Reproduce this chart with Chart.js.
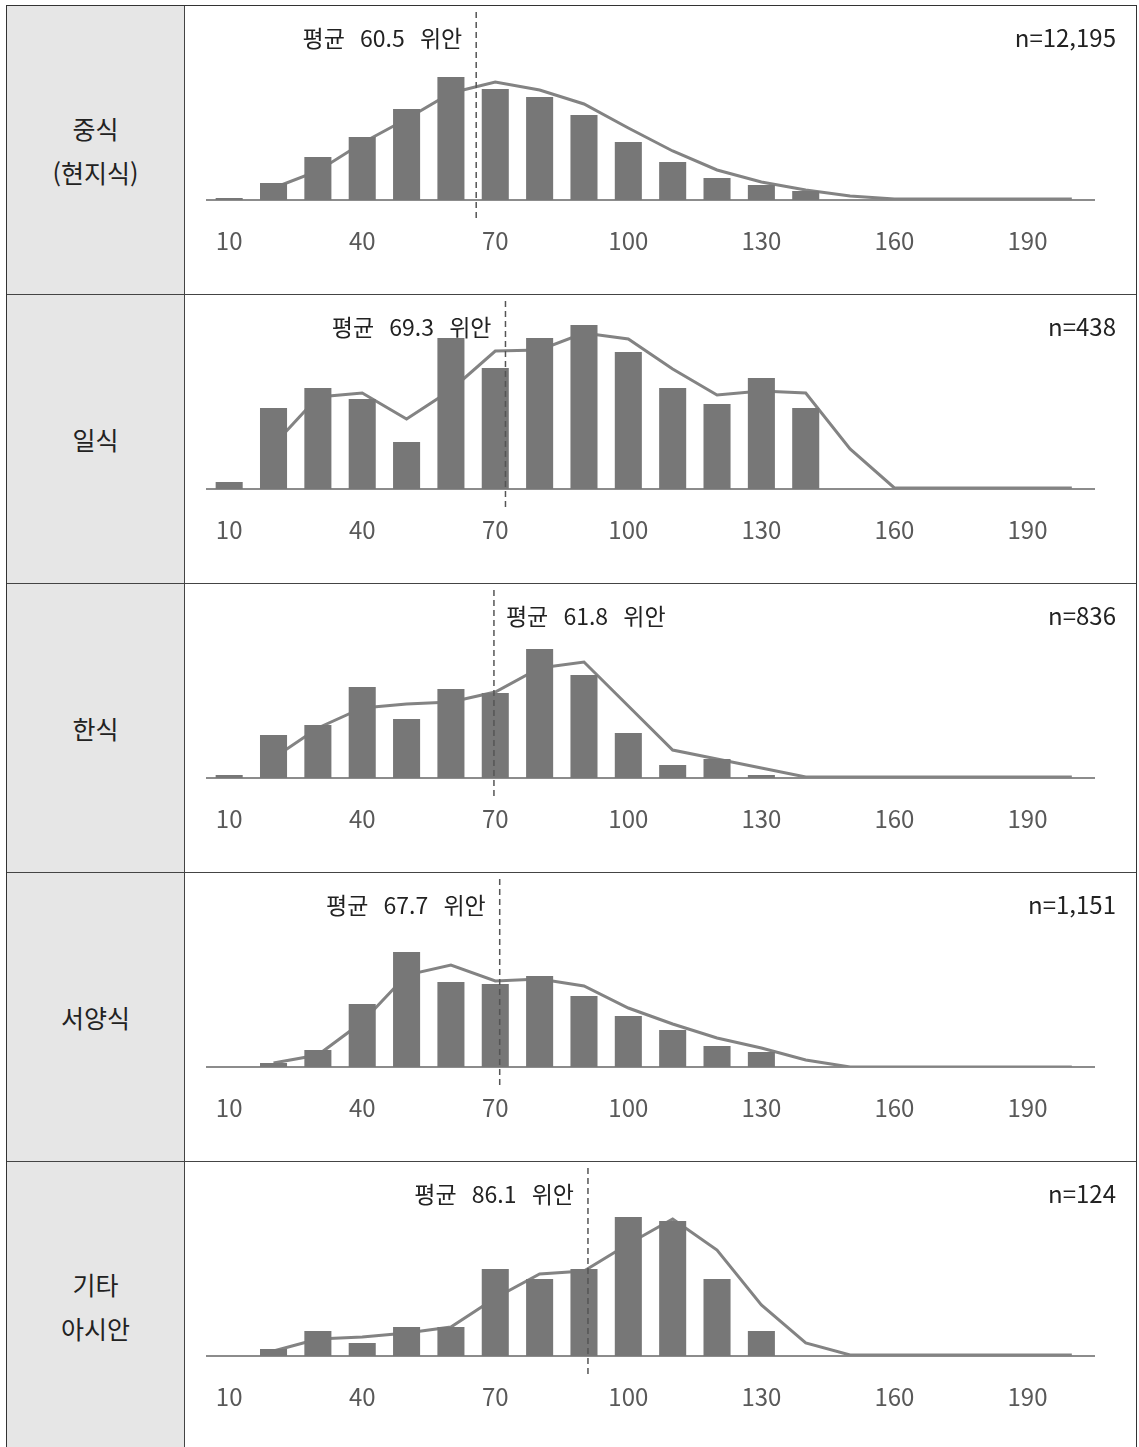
<!DOCTYPE html>
<html lang="ko">
<head>
<meta charset="utf-8">
<script src="https://cdn.jsdelivr.net/npm/chart.js@4.4.1/dist/chart.umd.min.js"></script>
<style>
  html, body { margin: 0; padding: 0; background: #fff; }
  body { width: 1139px; height: 1447px; overflow: hidden; position: relative;
         font-family: "Noto Sans CJK KR", "Noto Sans", sans-serif; }
  .tbl { position: absolute; left: 6px; top: 5px; width: 1131px; box-sizing: border-box;
         border: 1px solid #333; border-bottom: none; }
  .row { display: flex; height: 289px; box-sizing: border-box; border-bottom: 1px solid #444; }
  .label { width: 178px; box-sizing: border-box; background: #e6e6e6; border-right: 1px solid #444;
           display: flex; align-items: center; justify-content: center; text-align: center;
           font-size: 25px; line-height: 44px; color: #222; white-space: pre-line; }
  .plot { position: relative; width: 951px; height: 288px; }
  .plot canvas { display: block; }
</style>
</head>
<body>
<div class="tbl" id="tbl"></div>
<script>
// 가격대(위안) 구간
const categories = [10, 20, 30, 40, 50, 60, 70, 80, 90, 100, 110, 120, 130, 140, 150, 160, 170, 180, 190, 200];
const tickLabels = ['10', '40', '70', '100', '130', '160', '190'];

// 막대(빈도)와 이동평균선 값 - 그림에서 읽은 값
const cnBars   = [2, 17, 43, 63, 91, 123, 111, 103, 85, 58, 38, 22, 15, 9, 0, 0, 0, 0, 0, 0];
const cnLine   = [null, 12, 29, 57, 81, 107, 118, 110, 96, 72, 49, 30, 18, 10, 4, 1, 1, 1, 1, 1];
const jpBars   = [7, 81, 101, 90, 47, 151, 121, 151, 164, 137, 101, 85, 111, 81, 0, 0, 0, 0, 0, 0];
const jpLine   = [null, 44, 92, 96, 70, 99, 138, 139, 156, 150, 120, 94, 98, 96, 40, 1, 1, 1, 1, 1];
const krBars   = [3, 43, 53, 91, 59, 89, 85, 129, 103, 45, 13, 19, 3, 0, 0, 0, 0, 0, 0, 0];
const krLine   = [null, 20, 50, 70, 74, 76, 86, 110, 116, 72, 28, 19, 10, 1, 1, 1, 1, 1, 1, 1];
const westBars = [0, 4, 17, 63, 115, 85, 83, 91, 71, 51, 37, 21, 15, 0, 0, 0, 0, 0, 0, 0];
const westLine = [null, 4, 12, 45, 92, 102, 86, 88, 81, 59, 43, 29, 19, 7, 0, 0, 0, 0, 0, 0];
const asiaBars = [0, 7, 25, 13, 29, 29, 87, 77, 87, 139, 135, 77, 25, 0, 0, 0, 0, 0, 0, 0];
const asiaLine = [null, 5, 17, 19, 23, 29, 58, 82, 85, 112, 137, 106, 51, 13, 1, 1, 1, 1, 1, 1];

const rowNames   = ['중식\n(현지식)', '일식', '한식', '서양식', '기타\n아시안'];
const meanTexts  = ['평균 60.5 위안', '평균 69.3 위안', '평균 61.8 위안', '평균 67.7 위안', '평균 86.1 위안'];
const meanMarks  = [65.7, 72.3, 69.7, 71.0, 90.9];
const sampleText = ['n=12,195', 'n=438', 'n=836', 'n=1,151', 'n=124'];

const barSets  = [cnBars, jpBars, krBars, westBars, asiaBars];
const lineSets = [cnLine, jpLine, krLine, westLine, asiaLine];
const meanSide = ['left', 'left', 'right', 'left', 'left'];

Chart.defaults.font.family = '"Noto Sans CJK KR", "Noto Sans", sans-serif';

// 평균 점선, 평균 라벨, n 라벨
const markerPlugin = {
    id: 'marker',
    afterDatasetsDraw(chart, args, opts) {
        const { ctx, scales: { x, y } } = chart;
        const p0 = x.getPixelForValue(0);
        const p1 = x.getPixelForValue(1);
        const px = p0 + (opts.at - categories[0]) / (categories[1] - categories[0]) * (p1 - p0);
        const base = y.getPixelForValue(0);
        ctx.save();
        ctx.strokeStyle = '#555';
        ctx.lineWidth = 1.5;
        ctx.setLineDash([6, 4]);
        ctx.beginPath();
        ctx.moveTo(px, base - 188);
        ctx.lineTo(px, base + 22);
        ctx.stroke();
        ctx.setLineDash([]);

        ctx.fillStyle = '#222';
        ctx.textBaseline = 'middle';
        ctx.font = '23px "Noto Sans CJK KR", sans-serif';
        ctx.wordSpacing = '10px';
        if (opts.side === 'left') {
            ctx.textAlign = 'right';
            ctx.fillText(opts.mean, px - 14, 32);
        } else {
            ctx.textAlign = 'left';
            ctx.fillText(opts.mean, px + 12, 32);
        }
        ctx.wordSpacing = '0px';
        ctx.font = '24px "Noto Sans CJK KR", sans-serif';
        ctx.textAlign = 'right';
        ctx.fillText(opts.n, chart.width - 20, 32);
        ctx.restore();
    }
};

const tbl = document.getElementById('tbl');

rowNames.forEach((name, i) => {
    const row = document.createElement('div');
    row.className = 'row';
    const lab = document.createElement('div');
    lab.className = 'label';
    lab.textContent = name;
    const plot = document.createElement('div');
    plot.className = 'plot';
    const cv = document.createElement('canvas');
    cv.width = 951;
    cv.height = 288;
    plot.appendChild(cv);
    row.appendChild(lab);
    row.appendChild(plot);
    tbl.appendChild(row);

    new Chart(cv.getContext('2d'), {
        type: 'bar',
        data: {
            labels: categories.map(String),
            datasets: [{
                type: 'bar',
                data: barSets[i],
                backgroundColor: '#777777',
                categoryPercentage: 1,
                barPercentage: 0.61,
                order: 1
            }, {
                type: 'line',
                data: lineSets[i],
                borderColor: '#838383',
                borderWidth: 3,
                pointRadius: 0,
                tension: 0,
                order: 2
            }]
        },
        options: {
            responsive: false,
            animation: false,
            layout: { padding: { left: 22, right: 42, top: 14, bottom: 0 } },
            plugins: {
                legend: { display: false },
                tooltip: { enabled: false },
                marker: { at: meanMarks[i], mean: meanTexts[i], n: sampleText[i], side: meanSide[i] }
            },
            scales: {
                x: {
                    grid: { display: false, drawTicks: false },
                    border: { display: true, color: '#8c8c8c', width: 2 },
                    ticks: {
                        autoSkip: false,
                        maxRotation: 0,
                        padding: 26,
                        color: '#595959',
                        font: { size: 24 },
                        callback: function (v) {
                            const lab = this.getLabelForValue(v);
                            return tickLabels.includes(lab) ? lab : '';
                        }
                    },
                    afterFit: (scale) => { scale.height = 94; }
                },
                y: {
                    display: false,
                    min: 0,
                    max: 180
                }
            }
        },
        plugins: [markerPlugin]
    });
});
</script>
</body>
</html>
